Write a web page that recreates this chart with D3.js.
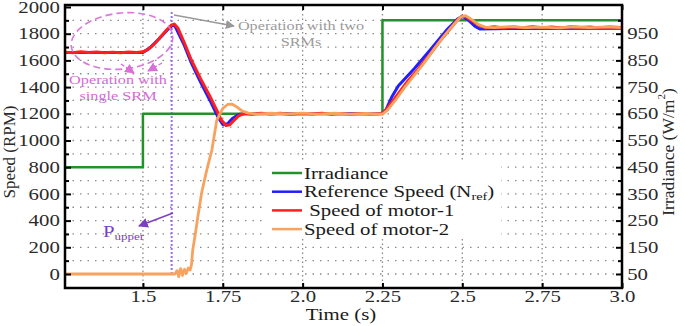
<!DOCTYPE html>
<html>
<head>
<meta charset="utf-8">
<script src="https://cdn.jsdelivr.net/npm/d3@7"></script>
<style>
  body { margin: 0; background: #fff; }
  text { font-family: "Liberation Serif", "Times New Roman", serif; }
</style>
</head>
<body>
<div id="chart"></div>
<script>
// tick labels
const timeTicks = [1.5, 1.75, 2.0, 2.25, 2.5, 2.75, 3.0];
const timeTickLabels = ["1.5", "1.75", "2.0", "2.25", "2.5", "2.75", "3.0"];
const speedTicks = [0, 200, 400, 600, 800, 1000, 1200, 1400, 1600, 1800, 2000];
const irrTicks = [50, 150, 250, 350, 450, 550, 650, 750, 850, 950];

// Irradiance (right axis, W/m2)
const irrT = [1.256, 1.5, 1.5, 2.25, 2.25, 3.0];
const irrV = [450, 450, 650, 650, 1000, 1000];

// Reference speed (RPM)
const refT = [1.256, 1.5, 1.52, 1.55, 1.575, 1.592, 1.6, 1.63, 1.65, 1.68, 1.71, 1.735, 1.75, 1.765, 1.78, 1.8, 1.82, 2.25,
  2.262, 2.28, 2.3, 2.35, 2.4, 2.45, 2.485, 2.5, 2.52, 2.54, 2.555, 2.6, 3.0];
const refV = [1660, 1660, 1690, 1760, 1825, 1862, 1858, 1710, 1590, 1440, 1300, 1175, 1120, 1125, 1165, 1195, 1200, 1200,
  1235, 1330, 1410, 1540, 1680, 1825, 1910, 1930, 1900, 1855, 1835, 1838, 1840];

// Speed of motor-1 (RPM)
const m1T = [1.256, 1.28, 1.305, 1.33, 1.355, 1.38, 1.405, 1.43, 1.455, 1.48, 1.5, 1.515, 1.535, 1.555, 1.575, 1.59, 1.598,
  1.61, 1.63, 1.65, 1.68, 1.71, 1.73, 1.745, 1.76, 1.772, 1.785, 1.8, 1.815, 1.84, 1.87, 1.9, 1.93, 1.96, 2.0, 2.03, 2.06,
  2.09, 2.12, 2.15, 2.18, 2.21, 2.24, 2.255, 2.28, 2.3, 2.33, 2.36, 2.4, 2.43, 2.46, 2.485, 2.5, 2.515, 2.535, 2.555, 2.575,
  2.6, 2.63, 2.66, 2.69, 2.72, 2.75, 2.78, 2.81, 2.84, 2.87, 2.9, 2.93, 2.96, 3.0];
const m1V = [1662, 1657, 1664, 1659, 1663, 1658, 1662, 1657, 1663, 1660, 1664, 1680, 1720, 1775, 1830, 1866, 1872,
  1840, 1730, 1612, 1465, 1330, 1232, 1155, 1112, 1118, 1150, 1185, 1203, 1196, 1205, 1198, 1204, 1197, 1203, 1198, 1205,
  1197, 1202, 1196, 1203, 1198, 1201, 1210, 1290, 1352, 1448, 1530, 1650, 1745, 1832, 1905, 1932, 1922, 1890, 1858, 1845,
  1852, 1843, 1851, 1845, 1853, 1844, 1850, 1842, 1852, 1846, 1851, 1843, 1850, 1847];

// Speed of motor-2 (RPM)
const m2T = [1.256, 1.6, 1.607, 1.612, 1.618, 1.624, 1.63, 1.636, 1.642, 1.648, 1.652, 1.656, 1.664, 1.672, 1.684, 1.7,
  1.716, 1.731, 1.75, 1.765, 1.78, 1.795, 1.81, 1.83, 1.86, 1.9, 1.95, 2.0, 2.05, 2.1, 2.15, 2.2, 2.25, 2.265, 2.29, 2.32,
  2.35, 2.38, 2.41, 2.44, 2.47, 2.495, 2.51, 2.53, 2.55, 2.57, 2.6, 2.65, 2.7, 2.75, 2.8, 2.85, 2.9, 2.95, 3.0];
const m2V = [0, 0, 25, -20, 40, -10, 35, 5, 45, 30, 70, 180, 300, 430, 610, 780,
  930, 1150, 1240, 1270, 1272, 1250, 1222, 1205, 1198, 1204, 1199, 1205, 1198, 1204, 1197, 1203, 1198, 1225, 1300, 1400,
  1490, 1580, 1680, 1775, 1860, 1925, 1935, 1905, 1870, 1850, 1846, 1853, 1845, 1850, 1844, 1852, 1846, 1851, 1845];

const legendNames = ["Irradiance", "Reference Speed (N", " Speed of motor-1", "Speed of motor-2"];
const colors = ["#23922a", "#1f1fff", "#ff1f1f", "#f7a25e"];

const margin = { top: 5, right: 63, bottom: 38, left: 65 },
      width = 685 - margin.left - margin.right,
      height = 326 - margin.top - margin.bottom;
const SX = "scale(1.3,1)"; // the picture's text is wide

const svgRoot = d3.select("#chart").append("svg")
    .attr("width", 685).attr("height", 326);
const svg = svgRoot.append("g")
    .attr("transform", `translate(${margin.left},${margin.top})`);

const defs = svgRoot.append("defs");
function marker(id, color) {
  defs.append("marker").attr("id", id)
      .attr("viewBox", "0 0 10 10").attr("refX", 9).attr("refY", 5)
      .attr("markerWidth", 7).attr("markerHeight", 7).attr("orient", "auto")
      .append("path").attr("d", "M0,0L10,5L0,10Z").attr("fill", color);
}
marker("arGrey", "#999");
marker("arPink", "#d870d8");
marker("arPurple", "#7b3fc0");

const x = d3.scaleLinear().domain([1.256, 3.0]).range([0, width]);
const y = d3.scaleLinear().domain([-105, 2015]).range([height, 0]);
const yR = d3.scaleLinear().domain([-2.5, 1057.5]).range([height, 0]);

// grid
svg.append("g").selectAll("line")
    .data(d3.range(0, 2000, 100))
    .enter().append("line")
    .attr("x1", 0).attr("x2", width)
    .attr("y1", d => y(d)).attr("y2", d => y(d))
    .attr("stroke", "#8a8a8a").attr("stroke-width", 1.3).attr("stroke-dasharray", "1.5,6");
svg.append("g").selectAll("line")
    .data(timeTicks.slice(0, -1))
    .enter().append("line")
    .attr("x1", d => x(d)).attr("x2", d => x(d))
    .attr("y1", 0).attr("y2", height)
    .attr("stroke", "#8a8a8a").attr("stroke-width", 1.3).attr("stroke-dasharray", "1.5,3");

// purple P_upper marker line
svg.append("line")
    .attr("x1", x(1.59)).attr("x2", x(1.59))
    .attr("y1", 7).attr("y2", y(0))
    .attr("stroke", "#a070e0").attr("stroke-width", 2).attr("stroke-dasharray", "2,2");

// curves
const line = d3.line().x(d => x(d[0])).y(d => d[1]);
const series = [
  d3.zip(irrT, irrV.map(v => yR(v))),
  d3.zip(refT, refV.map(v => y(v))),
  d3.zip(m1T, m1V.map(v => y(v))),
  d3.zip(m2T, m2V.map(v => y(v)))
];
const widths = [2.5, 3, 3, 2.8];
series.forEach((pts, i) => {
  svg.append("path")
      .attr("d", line(pts))
      .attr("fill", "none")
      .attr("stroke", colors[i])
      .attr("stroke-width", widths[i])
      .attr("stroke-linejoin", "round");
});

// frame
svg.append("rect")
    .attr("width", width).attr("height", height)
    .attr("fill", "none").attr("stroke", "#000").attr("stroke-width", 2.5);

function styleAxis(g) {
  g.select(".domain").remove();
  g.selectAll(".tick line").attr("stroke", "#000").attr("stroke-width", 2);
  g.selectAll("text").attr("fill", "#2a2a2a").attr("transform", SX);
  g.attr("font-size", 16).attr("font-family", '"Liberation Serif", serif');
}

// left axis
svg.append("g")
    .call(d3.axisLeft(y).tickValues(speedTicks).tickFormat(d3.format("d"))
          .tickSizeInner(-6).tickSizeOuter(0).tickPadding(4))
    .call(styleAxis);
svg.append("g")
    .call(d3.axisLeft(y).tickValues(d3.range(100, 2000, 200)).tickSize(-4).tickFormat(""))
    .call(styleAxis);

// right axis
svg.append("g")
    .attr("transform", `translate(${width},0)`)
    .call(d3.axisRight(yR).tickValues(irrTicks).tickFormat(d3.format("d"))
          .tickSizeInner(-6).tickSizeOuter(0).tickPadding(4))
    .call(styleAxis)
    .selectAll("text").attr("text-anchor", "start");
svg.append("g")
    .attr("transform", `translate(${width},0)`)
    .call(d3.axisRight(yR).tickValues(d3.range(100, 1051, 100)).tickSize(-4).tickFormat(""))
    .call(styleAxis);

// bottom / top axis
svg.append("g")
    .attr("transform", `translate(0,${height})`)
    .call(d3.axisBottom(x).tickValues(timeTicks).tickFormat((d, i) => timeTickLabels[i])
          .tickSizeInner(-5).tickSizeOuter(0).tickPadding(3))
    .call(styleAxis);
svg.append("g")
    .call(d3.axisTop(x).tickValues(timeTicks).tickSizeInner(-5).tickSizeOuter(0).tickFormat(""))
    .call(styleAxis);

// axis titles
svgRoot.append("text")
    .attr("transform", "translate(9,152) rotate(-90)")
    .attr("text-anchor", "middle").attr("dominant-baseline", "central")
    .attr("font-size", 17).attr("fill", "#2a2a2a")
    .text("Speed (RPM)");
const irrTitle = svgRoot.append("text")
    .attr("transform", "translate(668,152) rotate(-90)")
    .attr("text-anchor", "middle").attr("dominant-baseline", "central")
    .attr("font-size", 17.5).attr("fill", "#2a2a2a");
irrTitle.append("tspan").text("Irradiance (W/m");
irrTitle.append("tspan").attr("font-size", 11).attr("dy", -7).text("2");
irrTitle.append("tspan").attr("dy", 7).text(")");
svgRoot.append("text")
    .attr("transform", `translate(341,320) ${SX}`)
    .attr("text-anchor", "middle").attr("font-size", 16).attr("fill", "#1a1a1a")
    .text("Time (s)");

// legend
const legend = svgRoot.append("g");
legend.append("rect")
    .attr("x", 265).attr("y", 162).attr("width", 236).attr("height", 76)
    .attr("fill", "#fff");
legendNames.forEach((name, i) => {
  const row = legend.append("g").attr("transform", `translate(0,${173 + i * 18.7})`);
  row.append("line")
      .attr("x1", 272).attr("x2", 302)
      .attr("stroke", colors[i]).attr("stroke-width", 2.5);
  const t = row.append("text")
      .attr("transform", `translate(304,5.5) ${SX}`)
      .attr("font-size", 16).attr("fill", "#1a1a1a")
      .attr("xml:space", "preserve")
      .text(name);
  if (i === 1) {
    t.append("tspan").attr("font-size", 11).attr("dy", 3).text("ref");
    t.append("tspan").attr("dy", -3).text(")");
  }
});

// annotation: operation with single SRM (pink)
svgRoot.append("ellipse")
    .attr("cx", 122).attr("cy", 41).attr("rx", 51).attr("ry", 28)
    .attr("transform", "rotate(-6,122,41)")
    .attr("fill", "none").attr("stroke", "#dc78dc").attr("stroke-width", 1.6)
    .attr("stroke-dasharray", "7,4");
svgRoot.append("line")
    .attr("x1", 121).attr("y1", 64).attr("x2", 134).attr("y2", 73)
    .attr("stroke", "#d870d8").attr("stroke-width", 1.4).attr("stroke-dasharray", "4,2")
    .attr("marker-end", "url(#arPink)");
svgRoot.append("line")
    .attr("x1", 162).attr("y1", 63).attr("x2", 148).attr("y2", 71)
    .attr("stroke", "#d870d8").attr("stroke-width", 1.4).attr("stroke-dasharray", "4,2")
    .attr("marker-end", "url(#arPink)");
["Operation with", "single SRM"].forEach((s, i) => {
  svgRoot.append("text")
      .attr("transform", `translate(118,${84 + i * 16}) ${SX}`)
      .attr("text-anchor", "middle").attr("font-size", 12.5).attr("fill", "#d46ad4")
      .text(s);
});

// annotation: operation with two SRMs (grey)
svgRoot.append("line")
    .attr("x1", 174).attr("y1", 15).attr("x2", 234).attr("y2", 26)
    .attr("stroke", "#999").attr("stroke-width", 1.3)
    .attr("marker-end", "url(#arGrey)");
["Operation with two", "SRMs"].forEach((s, i) => {
  svgRoot.append("text")
      .attr("transform", `translate(301,${30 + i * 16}) ${SX}`)
      .attr("text-anchor", "middle").attr("font-size", 12.5).attr("fill", "#9a9a9a")
      .text(s);
});

// annotation: P_upper (purple)
svgRoot.append("line")
    .attr("x1", 173).attr("y1", 213).attr("x2", 139).attr("y2", 226)
    .attr("stroke", "#7b3fc0").attr("stroke-width", 1.4)
    .attr("marker-end", "url(#arPurple)");
const pu = svgRoot.append("text")
    .attr("transform", `translate(103,237) ${SX}`)
    .attr("font-size", 16).attr("fill", "#7b3fc0");
pu.append("tspan").text("P");
pu.append("tspan").attr("font-size", 10).attr("dy", 3).text("upper");
</script>
</body>
</html>
